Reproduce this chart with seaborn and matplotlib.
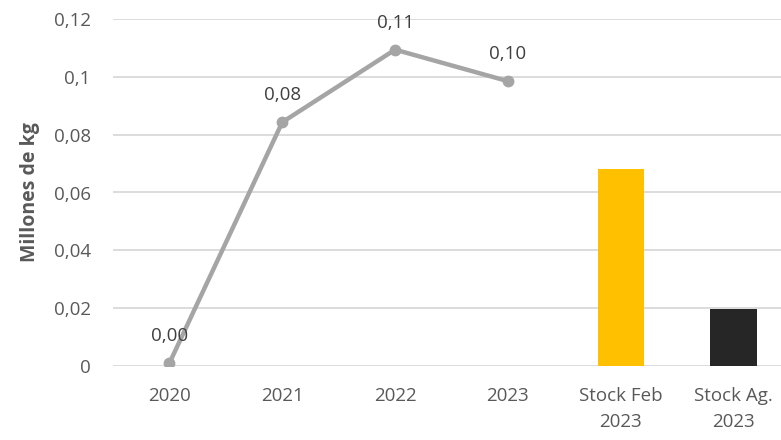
import matplotlib
matplotlib.use("Agg")
import matplotlib.pyplot as plt
import seaborn as sns
import pandas as pd

categories = ["2020", "2021", "2022", "2023", "Stock Feb\n2023", "Stock Ag.\n2023"]
line_cats = ["2020", "2021", "2022", "2023"]
line_vals = [0.001, 0.0843, 0.1094, 0.0985]
line_labels = ["0,00", "0,08", "0,11", "0,10"]
bar_cats = ["Stock Feb\n2023", "Stock Ag.\n2023"]
bar_vals = [0.0681, 0.0197]
bar_colors = ["#FFC000", "#262626"]
yticks = [0, 0.02, 0.04, 0.06, 0.08, 0.1, 0.12]
ytick_labels = ["0", "0,02", "0,04", "0,06", "0,08", "0,1", "0,12"]

sns.set_theme(style="white")
plt.rcParams['font.family'] = ['Open Sans', 'DejaVu Sans']

fig = plt.figure(figsize=(7.81, 4.40), dpi=100)
ax = fig.add_axes([113/781, 74/440, (781-113)/781, (366-19)/440])

bar_df = pd.DataFrame({"cat": bar_cats, "val": bar_vals})
sns.barplot(data=bar_df, x="cat", y="val", hue="cat", order=categories,
            palette=dict(zip(bar_cats, bar_colors)), width=0.41, legend=False,
            ax=ax, saturation=1, linewidth=0)

line_df = pd.DataFrame({"x": [categories.index(c) for c in line_cats], "val": line_vals})
sns.lineplot(data=line_df, x="x", y="val", ax=ax, color="#A5A5A5", linewidth=3.2,
             marker="o", markersize=8.5, markeredgewidth=0)

for xi, v, lab in zip(line_df["x"], line_vals, line_labels):
    ax.annotate(lab, (xi, v), xytext=(0, 13), textcoords="offset points",
                ha="center", va="bottom", fontsize=13.5, color="#404040")

ax.set_ylim(0, 0.12)
ax.set_xlim(-0.5, 5.42)
ax.set_yticks(yticks)
ax.set_yticklabels(ytick_labels)
ax.set_xticks(range(len(categories)))
ax.set_xticklabels(categories, linespacing=1.55)
ax.tick_params(axis="both", labelsize=13.5, colors="#595959", length=0)
ax.tick_params(axis="x", pad=15)
ax.tick_params(axis="y", pad=16)
ax.grid(axis="y", color="#D9D9D9", linewidth=1.3)
ax.set_axisbelow(True)
for s in ax.spines.values():
    s.set_visible(False)
ax.set_xlabel("")
ax.set_ylabel("Millones de kg", fontsize=14, fontweight="bold", color="#595959", labelpad=10)

fig.savefig("out.png", dpi=100)
